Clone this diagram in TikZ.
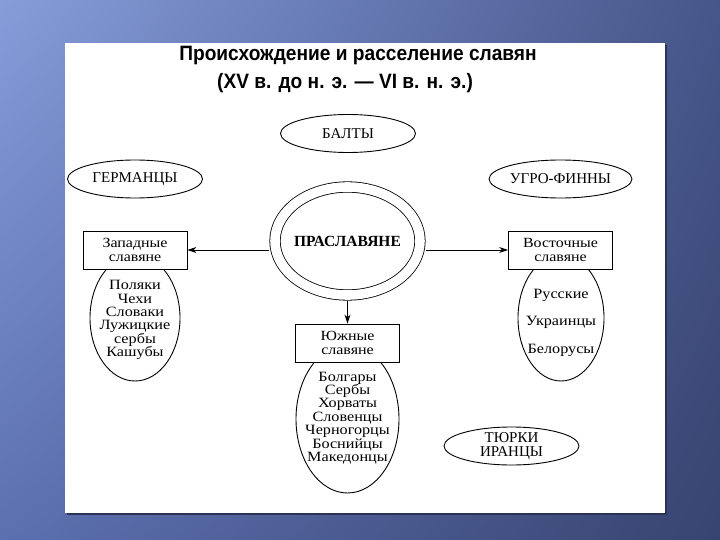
\documentclass[tikz,border=0pt]{standalone}
\usepackage{fontspec}
\setmainfont{Liberation Serif}
\newfontfamily\bodyfont{Liberation Serif}[FakeStretch=1.14]
\newfontfamily\headfont{Liberation Sans}[FakeStretch=0.92]
\usepackage{tikz}
\usetikzlibrary{shapes.geometric, arrows.meta, shadings}

\definecolor{slideA}{RGB}{134,157,218}
\definecolor{slideB}{RGB}{70,86,138}
\definecolor{slideC}{RGB}{92,112,176}
\definecolor{slideD}{RGB}{56,68,112}

\begin{document}
\begin{tikzpicture}[x=1pt, y=-1pt,
    tribe/.style={draw, ellipse, line width=0.9pt, minimum width=135pt, minimum height=38pt, inner sep=0pt, align=center, font=\fontsize{15}{13.5}\selectfont},
    group/.style={draw, fill=white, line width=0.9pt, minimum width=104pt, minimum height=38pt, inner sep=0pt, align=center, font=\bodyfont\fontsize{14}{13.5}\selectfont},
    folk/.style={draw, ellipse, line width=0.9pt, minimum width=90pt, minimum height=126pt, inner sep=0pt},
    ring/.style={draw, ellipse, double, double distance=9.6pt, line width=0.8pt, minimum width=145pt, minimum height=108pt, inner sep=0pt, outer sep=5.6pt},
    list/.style={align=center, inner sep=0pt, font=\bodyfont\fontsize{14.2}{13.4}\selectfont},
    heading/.style={font=\headfont\bfseries\fontsize{20.8}{22}\selectfont},
    arrow/.style={-{Stealth[length=9pt, width=6pt]}, line width=0.9pt}
]
    % Slide
    \useasboundingbox (0,0) rectangle (720,540);
    \shade[upper left=slideA, upper right=slideB, lower left=slideC, lower right=slideD] (0,0) rectangle (720,540);
    \fill[slideD!75!black] (67,45) rectangle (667,515);
    \fill[white] (65,43) rectangle (665,513);

    % Title
    \node[heading] (title) at (358,56) {Происхождение и расселение славян};
    \node[heading] (period) at (345,83) {(XV в. до н. э. — VI в. н. э.)};

    % Neighbours
    \node[tribe] (balts) at (348,133.5) {БАЛТЫ};
    \node[tribe] (germans) at (135,179) {ГЕРМАНЦЫ};
    \node[tribe] (finns) at (560.5,179) {УГРО-ФИННЫ};
    \node[tribe] (turks) at (511.5,446) {ТЮРКИ\\ИРАНЦЫ};

    % Peoples (under the boxes)
    \node[folk] (westE) at (135,318) {};
    \node[folk, minimum width=86pt] (eastE) at (561,318) {};
    \node[folk, minimum width=103pt, minimum height=148pt] (southE) at (347.5,419) {};

    % Branches
    \node[group] (west) at (135,250) {Западные\\славяне};
    \node[group] (east) at (560.5,250) {Восточные\\славяне};
    \node[group] (south) at (347.5,343) {Южные\\славяне};

    \node[list] (westL) at (135,320) {Поляки\\Чехи\\Словаки\\Лужицкие\\сербы\\Кашубы};
    \node[list, font=\bodyfont\fontsize{14.2}{27.5}\selectfont] (eastL) at (561,322.5) {Русские\\Украинцы\\Белорусы};
    \node[list] (southL) at (347.5,418) {Болгары\\Сербы\\Хорваты\\Словенцы\\Черногорцы\\Боснийцы\\Македонцы};

    % Proto-Slavs
    \node[ring] (ring) at (347.5,241) {};
    \node[font=\bfseries\fontsize{15.5}{16}\selectfont] (proto) at (ring) {ПРАСЛАВЯНЕ};

    \draw[arrow] (ring.west |- west.east) -- (west.east);
    \draw[arrow] (ring.east |- east.west) -- (east.west);
    \draw[arrow] (ring.south) -- (south.north);
\end{tikzpicture}
\end{document}
